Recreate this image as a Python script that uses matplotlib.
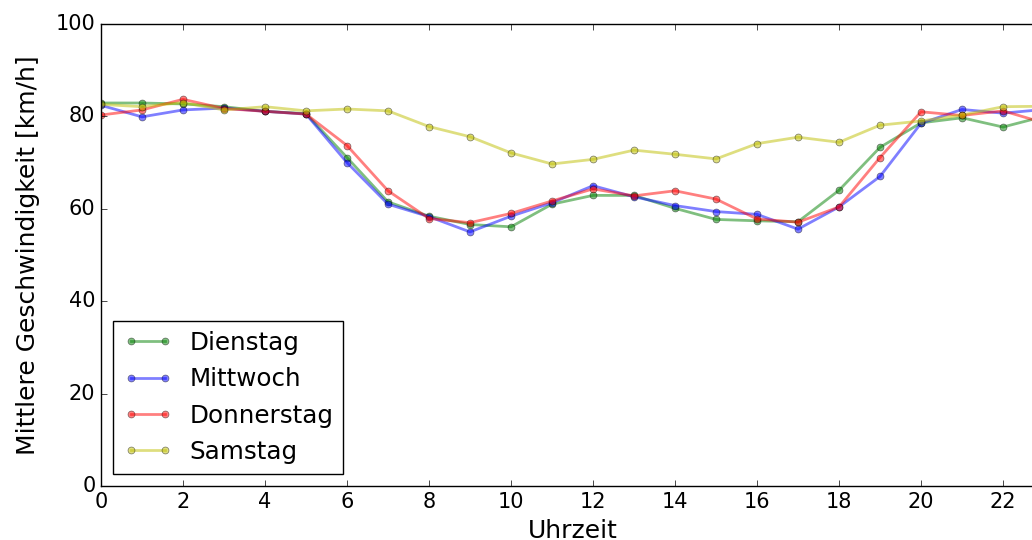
import matplotlib
matplotlib.use("Agg")
import matplotlib.pyplot as plt

plt.style.use("classic")
plt.rcParams['font.family'] = ['DejaVu Sans']

# mittlere Geschwindigkeit je Stunde (0..23 Uhr)
stunden = list(range(24))
dienstag = [82.9, 82.9, 82.7, 82.1, 81.1, 80.6, 71.1, 61.5, 58.4, 56.6, 56.1, 61.0,
            62.9, 62.9, 60.1, 57.7, 57.4, 57.2, 64.0, 73.3, 78.6, 79.7, 77.7, 80.0]
mittwoch = [82.4, 79.9, 81.4, 81.8, 81.1, 80.5, 70.0, 61.0, 58.3, 55.0, 58.4, 61.3,
            65.0, 62.6, 60.7, 59.4, 58.8, 55.6, 60.4, 67.0, 78.5, 81.5, 80.7, 81.5]
donnerstag = [80.3, 81.4, 83.7, 81.7, 81.1, 80.5, 73.7, 63.9, 57.9, 57.0, 59.0, 61.7,
              64.3, 62.8, 63.9, 62.1, 57.8, 57.1, 60.4, 71.1, 81.0, 80.2, 81.2, 78.6]
samstag = [82.6, 82.1, 83.0, 81.4, 82.1, 81.2, 81.6, 81.2, 77.8, 75.6, 72.1, 69.7,
           70.7, 72.7, 71.8, 70.8, 74.1, 75.5, 74.4, 78.1, 79.0, 80.3, 82.1, 82.2]

reihen = [("Dienstag", dienstag, "g"), ("Mittwoch", mittwoch, "b"),
          ("Donnerstag", donnerstag, "r"), ("Samstag", samstag, "y")]

fig = plt.figure(figsize=(10.32, 5.4), dpi=100, facecolor="white")
ax = fig.add_axes([101 / 1032, (540 - 486) / 540, 943 / 1032, 462 / 540])
ax.set_facecolor("white")

for name, werte, farbe in reihen:
    ax.plot(stunden, werte, "-o", color=farbe, alpha=0.5, lw=2, ms=5,
            mec="k", mew=0.5, label=name)

ax.set_xlim(0, 23)
ax.set_ylim(0, 100)
ax.set_xticks(range(0, 23, 2))
ax.tick_params(labelsize=15)
ax.set_xlabel("Uhrzeit", fontsize=18)
ax.set_ylabel("Mittlere Geschwindigkeit [km/h]", fontsize=18, labelpad=11)
ax.legend(loc="lower left", fontsize=17.7, numpoints=2, handletextpad=0.7)

fig.savefig("out.png", dpi=100, facecolor="white")
